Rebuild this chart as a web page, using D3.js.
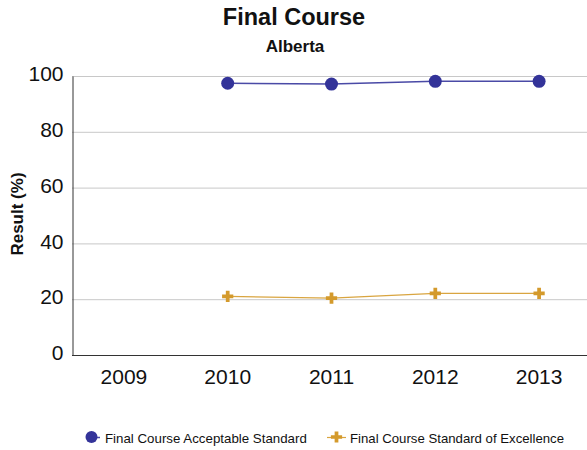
<!DOCTYPE html>
<html><head><meta charset="utf-8">
<script src="https://cdn.jsdelivr.net/npm/d3@7"></script>
<style>body{margin:0;background:#fff;} text{font-family:"Liberation Sans",Arial,sans-serif;}</style>
</head><body>
<svg id="c" width="587" height="450"></svg>
<script>
const years = ["2009","2010","2011","2012","2013"];
const acceptable = [null, 97.4, 97.1, 98.1, 98.1];
const excellence = [null, 21.0, 20.4, 22.1, 22.1];
const yTicks = [0,20,40,60,80,100];
const seriesNames = ["Final Course Acceptable Standard","Final Course Standard of Excellence"];

(function(){
const svg = d3.select("#c");
const pLeft = 72, pRight = 591, pTop = 76, pBottom = 355;
const x = d3.scaleBand().domain(years).range([pLeft, pRight]);
const y = d3.scaleLinear().domain([0,100]).range([pBottom, pTop]);

// gridlines
svg.append("g").selectAll("line").data(yTicks.filter(d=>d>0)).join("line")
  .attr("x1", pLeft).attr("x2", 587).attr("y1", d=>y(d)+0.5).attr("y2", d=>y(d)+0.5)
  .attr("stroke","#c8c8c8").attr("stroke-width",1);

// y axis
const ya = svg.append("g").attr("transform",`translate(${pLeft+0.5},0)`)
  .call(d3.axisLeft(y).tickValues(yTicks).tickSize(0).tickPadding(9));
ya.select(".domain").attr("stroke","#333");
ya.selectAll("text").attr("font-size",21).attr("fill","#111").attr("font-family","Liberation Sans, Arial").attr("dy","0.22em");

// x axis
const xa = svg.append("g").attr("transform",`translate(0,${pBottom})`)
  .call(d3.axisBottom(x).tickSize(0).tickPadding(14));
xa.select(".domain").attr("stroke","#333").attr("d",`M${pLeft},0.5H587`);
xa.selectAll("text").attr("font-size",21).attr("fill","#111").attr("font-family","Liberation Sans, Arial");

const cx = d => x(d) + x.bandwidth()/2;

// lines
const line = (vals) => d3.line().defined((d,i)=>vals[i]!=null).x((d,i)=>cx(years[i])).y((d,i)=>y(vals[i]))(vals);
svg.append("path").attr("d", line(acceptable)).attr("fill","none").attr("stroke","#4a4aa6").attr("stroke-width",1.5);
svg.append("path").attr("d", line(excellence)).attr("fill","none").attr("stroke","#d9a540").attr("stroke-width",1.2);

// markers
const accPts = years.map((yr,i)=>({yr,v:acceptable[i]})).filter(d=>d.v!=null);
svg.append("g").selectAll("circle").data(accPts).join("circle")
  .attr("cx",d=>cx(d.yr)).attr("cy",d=>y(d.v)).attr("r",6.5).attr("fill","#333399");
const plus = d3.symbol().type(d3.symbolCross).size(70);
const excPts = years.map((yr,i)=>({yr,v:excellence[i]})).filter(d=>d.v!=null);
svg.append("g").selectAll("path").data(excPts).join("path")
  .attr("d", plus).attr("transform",d=>`translate(${cx(d.yr)},${y(d.v)})`).attr("fill","#d49a2c");

// titles
svg.append("text").attr("x",294).attr("y",25).attr("text-anchor","middle").attr("font-size",23.5).attr("font-weight","bold").attr("fill","#111").text("Final Course");
svg.append("text").attr("x",295).attr("y",51.5).attr("text-anchor","middle").attr("font-size",17).attr("font-weight","bold").attr("fill","#111").text("Alberta");
svg.append("text").attr("transform","translate(23,214) rotate(-90)").attr("text-anchor","middle").attr("font-size",17).attr("font-weight","bold").attr("fill","#111").text("Result (%)");

// legend
const lg = svg.append("g");
lg.append("line").attr("x1",91).attr("x2",100).attr("y1",437.5).attr("y2",437.5).attr("stroke","#4a4aa6").attr("stroke-width",1.5);
lg.append("circle").attr("cx",91.5).attr("cy",437).attr("r",6).attr("fill","#333399");
lg.append("text").attr("x",105).attr("y",442.5).attr("font-size",13.3).attr("fill","#111").text(seriesNames[0]);
lg.append("line").attr("x1",327).attr("x2",346).attr("y1",437.5).attr("y2",437.5).attr("stroke","#d9a540").attr("stroke-width",1.2);
lg.append("path").attr("d",plus).attr("transform","translate(336.5,437)").attr("fill","#d49a2c");
lg.append("text").attr("x",350).attr("y",442.5).attr("font-size",13.2).attr("fill","#111").text(seriesNames[1]);
})();
</script>
</body></html>
